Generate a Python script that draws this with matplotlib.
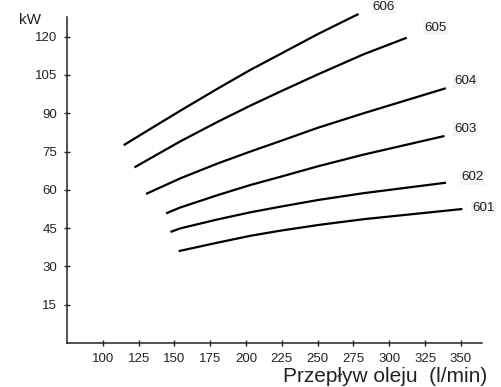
import matplotlib
matplotlib.use("Agg")
import matplotlib.pyplot as plt

plt.rcParams['font.family'] = ['Liberation Sans', 'DejaVu Sans']

# Data
x_606 = [114.6, 135.0, 154.1, 180.0, 203.0, 223.9, 250.0, 278.5]
y_606 = [77.5, 84.5, 91.0, 99.6, 107.0, 113.2, 121.0, 128.9]
x_605 = [122.1, 154.1, 180.0, 203.0, 223.9, 250.0, 282.0, 312.2]
y_605 = [68.8, 79.0, 86.6, 93.0, 98.5, 105.2, 113.1, 119.6]
x_604 = [130.2, 154.1, 180.0, 203.0, 223.9, 250.0, 282.0, 339.4]
y_604 = [58.4, 64.5, 70.3, 75.0, 79.1, 84.3, 90.0, 99.8]
x_603 = [144.2, 154.1, 180.0, 203.0, 223.9, 250.0, 282.0, 338.5]
y_603 = [50.8, 53.1, 57.9, 61.9, 65.1, 69.2, 73.8, 81.1]
x_602 = [147.2, 154.1, 180.0, 203.0, 223.9, 250.0, 282.0, 339.6]
y_602 = [43.5, 44.9, 48.4, 51.2, 53.4, 56.0, 58.7, 62.8]
x_601 = [153.0, 180.0, 203.0, 223.9, 250.0, 282.0, 351.0]
y_601 = [36.0, 39.3, 42.0, 44.0, 46.2, 48.5, 52.5]

series_names = ["606", "605", "604", "603", "602", "601"]
label_x = [295.9, 332.5, 352.9, 352.9, 358.3, 365.7]
label_y = [131.6, 123.5, 102.6, 83.8, 64.9, 52.8]

x_ticks = [100, 125, 150, 175, 200, 225, 250, 275, 300, 325, 350]
y_ticks = [15, 30, 45, 60, 75, 90, 105, 120]

fig = plt.figure(figsize=(5.01, 3.87), dpi=100)
ax = fig.add_axes([0.1337, 0.1137, 0.9615 - 0.1337, 0.9553 - 0.1137])

series = [(x_606, y_606), (x_605, y_605), (x_604, y_604),
          (x_603, y_603), (x_602, y_602), (x_601, y_601)]
for (xs, ys) in series:
    ax.plot(xs, ys, color='black', lw=1.6, solid_capstyle='butt',
            solid_joinstyle='round', clip_on=False)

for name, lx, ly in zip(series_names, label_x, label_y):
    ax.text(lx, ly, name, fontsize=9.6, color='#222222', ha='center', va='center',
            bbox=dict(facecolor='#f4f4f4', edgecolor='none', pad=1.0), clip_on=False)

ax.set_xlim(75, 364.5)
ax.set_ylim(0, 127.6)
ax.set_xticks(x_ticks)
ax.set_yticks(y_ticks)
ax.tick_params(direction='inout', length=4, width=1.0, labelsize=9.5,
               colors='#222222', pad=5)
for s in ['top', 'right']:
    ax.spines[s].set_visible(False)
for s in ['left', 'bottom']:
    ax.spines[s].set_linewidth(1.1)
    ax.spines[s].set_color('#222222')

fig.text(30 / 501, 1 - 20 / 387, "kW", fontsize=11, color='#222222', ha='center', va='center')
fig.text(385.5 / 501, 1 - 376 / 387, "Przepływ oleju  (l/min)", fontsize=15,
         color='#222222', ha='center', va='center')

fig.savefig("out.png", dpi=100)
